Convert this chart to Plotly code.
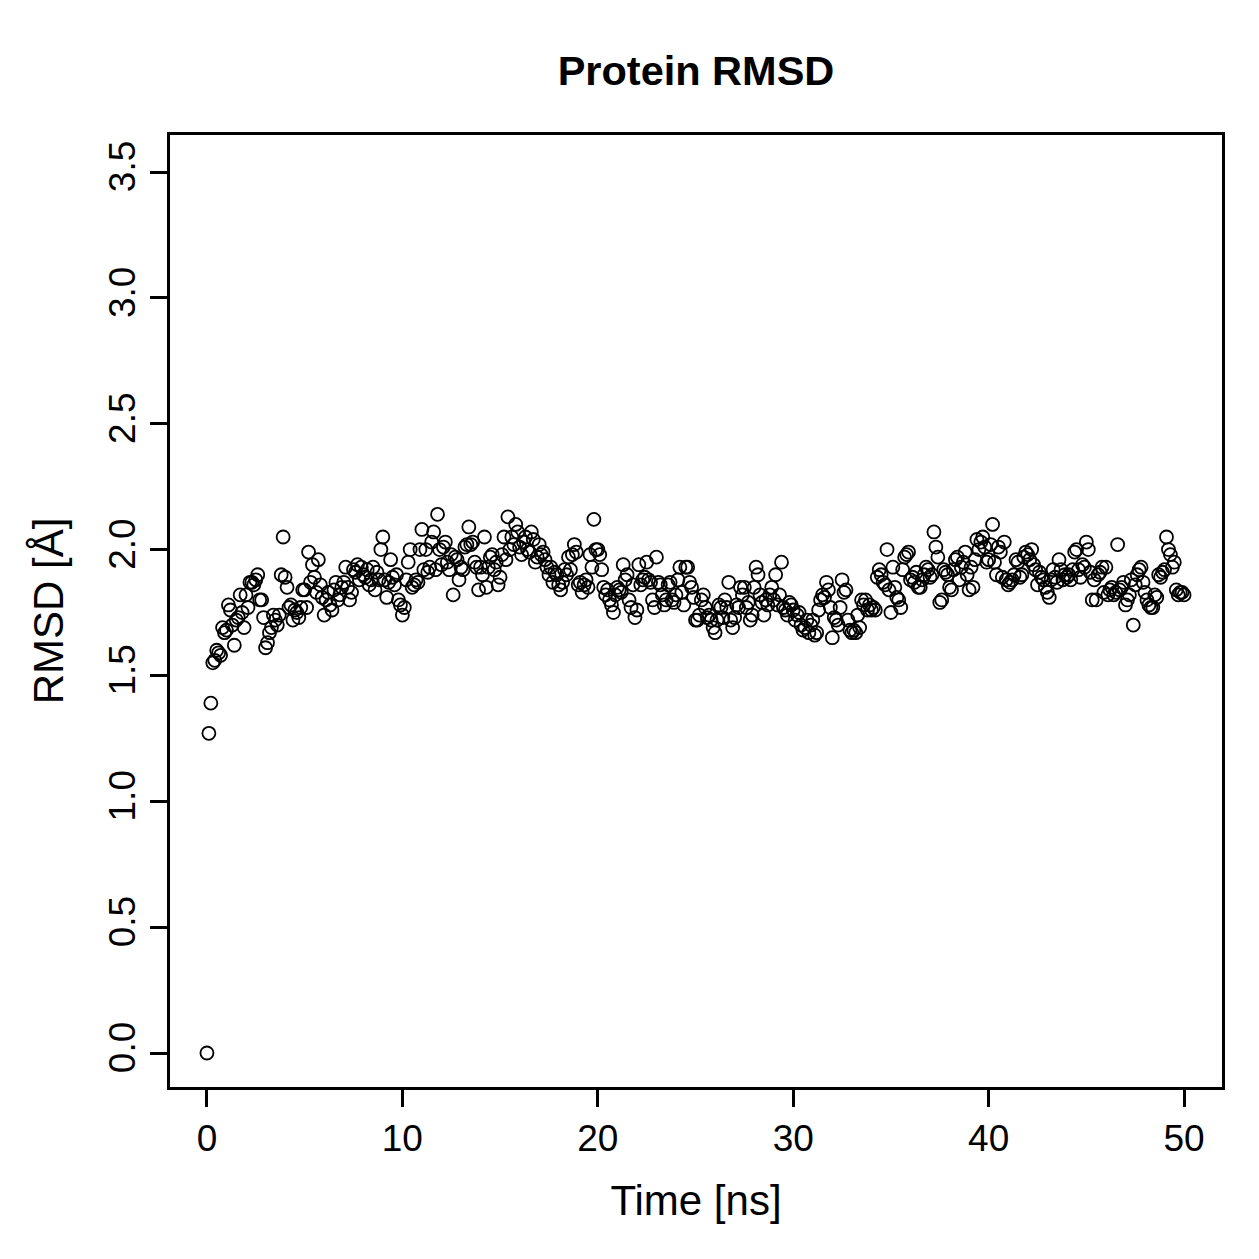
import plotly.graph_objects as go

time_ns = [round(i * 0.1, 1) for i in range(501)]

rmsd_rows = [
    [0.00, 1.27, 1.39, 1.55, 1.56, 1.60, 1.59, 1.58, 1.69, 1.67],
    [1.68, 1.78, 1.76, 1.70, 1.62, 1.72, 1.73, 1.82, 1.75, 1.69],
    [1.82, 1.77, 1.87, 1.87, 1.86, 1.88, 1.90, 1.80, 1.80, 1.73],
    [1.61, 1.63, 1.67, 1.69, 1.74, 1.72, 1.70, 1.74, 1.90, 2.05],
    [1.89, 1.85, 1.77, 1.78, 1.72, 1.76, 1.75, 1.73, 1.77, 1.84],
    [1.84, 1.77, 1.99, 1.87, 1.94, 1.89, 1.83, 1.96, 1.86, 1.81],
    [1.74, 1.80, 1.83, 1.78, 1.76, 1.84, 1.87, 1.80, 1.82, 1.85],
    [1.87, 1.93, 1.85, 1.80, 1.83, 1.92, 1.91, 1.94, 1.88, 1.93],
    [1.90, 1.89, 1.92, 1.86, 1.88, 1.93, 1.84, 1.91, 1.88, 2.00],
    [2.05, 1.88, 1.81, 1.87, 1.96, 1.89, 1.86, 1.90, 1.80, 1.78],
    [1.74, 1.77, 1.88, 1.95, 2.00, 1.85, 1.86, 1.88, 1.87, 2.00],
    [2.08, 1.92, 2.00, 1.91, 1.93, 2.03, 2.07, 1.92, 2.14, 2.00],
    [1.94, 2.01, 2.03, 1.95, 1.92, 1.98, 1.82, 1.97, 1.96, 1.88],
    [1.93, 1.92, 2.01, 2.02, 2.09, 2.02, 2.03, 1.95, 1.93, 1.84],
    [1.93, 1.90, 2.05, 1.85, 1.93, 1.97, 1.98, 1.92, 1.95, 1.86],
    [1.89, 1.98, 2.05, 1.96, 2.13, 2.00, 2.05, 2.02, 2.10, 2.07],
    [2.01, 1.98, 2.03, 2.05, 2.00, 1.99, 2.07, 2.04, 1.95, 1.97],
    [2.02, 1.98, 1.99, 1.96, 1.93, 1.90, 1.93, 1.87, 1.91, 1.90],
    [1.86, 1.84, 1.87, 1.92, 1.90, 1.97, 1.92, 1.98, 2.02, 1.99],
    [1.86, 1.87, 1.83, 1.86, 1.88, 1.85, 1.98, 1.93, 2.12, 2.00],
    [2.00, 1.98, 1.92, 1.85, 1.82, 1.84, 1.80, 1.78, 1.75, 1.82],
    [1.85, 1.84, 1.83, 1.94, 1.88, 1.90, 1.80, 1.77, 1.86, 1.73],
    [1.76, 1.94, 1.86, 1.88, 1.89, 1.95, 1.88, 1.87, 1.80, 1.77],
    [1.97, 1.87, 1.86, 1.82, 1.78, 1.80, 1.86, 1.87, 1.80, 1.79],
    [1.82, 1.88, 1.93, 1.83, 1.78, 1.93, 1.93, 1.87, 1.85, 1.81],
    [1.72, 1.72, 1.74, 1.80, 1.82, 1.77, 1.73, 1.74, 1.72, 1.69],
    [1.67, 1.72, 1.78, 1.77, 1.73, 1.80, 1.77, 1.87, 1.72, 1.69],
    [1.73, 1.78, 1.77, 1.85, 1.82, 1.85, 1.77, 1.79, 1.72, 1.74],
    [1.85, 1.93, 1.90, 1.82, 1.79, 1.74, 1.80, 1.78, 1.82, 1.85],
    [1.80, 1.90, 1.78, 1.82, 1.95, 1.77, 1.76, 1.74, 1.79, 1.78],
    [1.76, 1.72, 1.74, 1.75, 1.70, 1.68, 1.69, 1.72, 1.67, 1.70],
    [1.72, 1.66, 1.67, 1.76, 1.80, 1.82, 1.81, 1.87, 1.84, 1.77],
    [1.65, 1.73, 1.72, 1.70, 1.77, 1.88, 1.83, 1.84, 1.72, 1.68],
    [1.67, 1.68, 1.67, 1.74, 1.69, 1.80, 1.78, 1.80, 1.76, 1.78],
    [1.76, 1.77, 1.76, 1.89, 1.92, 1.90, 1.87, 1.86, 2.00, 1.84],
    [1.75, 1.93, 1.85, 1.81, 1.80, 1.77, 1.92, 1.97, 1.98, 1.99],
    [1.88, 1.89, 1.87, 1.91, 1.85, 1.85, 1.88, 1.90, 1.93, 1.92],
    [1.89, 1.90, 2.07, 2.01, 1.97, 1.79, 1.80, 1.92, 1.91, 1.90],
    [1.85, 1.84, 1.92, 1.96, 1.97, 1.88, 1.93, 1.95, 1.99, 1.90],
    [1.84, 1.93, 1.85, 1.96, 2.04, 2.00, 2.03, 2.05, 2.01, 1.95],
    [1.96, 2.02, 2.10, 1.95, 1.90, 2.01, 1.99, 1.89, 2.03, 1.88],
    [1.86, 1.87, 1.88, 1.90, 1.96, 1.95, 1.89, 1.90, 1.97, 1.99],
    [1.98, 1.96, 2.00, 1.94, 1.92, 1.86, 1.91, 1.89, 1.88, 1.85],
    [1.83, 1.81, 1.88, 1.92, 1.89, 1.87, 1.96, 1.92, 1.88, 1.90],
    [1.89, 1.90, 1.88, 1.92, 1.99, 2.00, 1.92, 1.89, 1.94, 1.93],
    [2.03, 2.00, 1.91, 1.80, 1.88, 1.80, 1.90, 1.91, 1.93, 1.83],
    [1.93, 1.82, 1.84, 1.85, 1.82, 1.83, 2.02, 1.84, 1.85, 1.87],
    [1.78, 1.80, 1.82, 1.88, 1.70, 1.86, 1.90, 1.92, 1.93, 1.87],
    [1.83, 1.80, 1.78, 1.77, 1.77, 1.82, 1.81, 1.90, 1.89, 1.91],
    [1.92, 2.05, 2.00, 1.98, 1.93, 1.95, 1.84, 1.82, 1.83, 1.83],
    [1.82],
]
rmsd = [v for row in rmsd_rows for v in row]

x_ticks = [0, 10, 20, 30, 40, 50]
y_ticks = [0.0, 0.5, 1.0, 1.5, 2.0, 2.5, 3.0, 3.5]

FONT = "Liberation Sans, Arial, Helvetica, sans-serif"

fig = go.Figure()
fig.add_trace(go.Scatter(
    x=time_ns, y=rmsd, mode="markers",
    marker=dict(symbol="circle-open", size=13, color="black",
                line=dict(width=1.8, color="black")),
    showlegend=False,
))

axis_common = dict(
    showline=True, linecolor="black", linewidth=2.5, mirror=True,
    ticks="outside", ticklen=17, tickwidth=2.5, tickcolor="black",
    showgrid=False, zeroline=False,
    tickfont=dict(family=FONT, size=37, color="black"),
)

fig.update_layout(
    width=1259, height=1259,
    margin=dict(l=170, r=37, t=135, b=172),
    paper_bgcolor="white", plot_bgcolor="white",
    title=dict(text="<b>Protein RMSD</b>", x=0.5528, xref="container",
               xanchor="center", y=1 - 70 / 1259, yanchor="middle",
               font=dict(family=FONT, size=41.5, color="black")),
    xaxis=dict(**axis_common, range=[-1.89, 51.94], tickvals=x_ticks,
               ticktext=[str(t) for t in x_ticks],
               title=dict(text="Time [ns]", standoff=28,
                          font=dict(family=FONT, size=42, color="black"))),
    yaxis=dict(**axis_common, range=[-0.135, 3.647], tickvals=y_ticks,
               ticktext=[f"{t:.1f}" for t in y_ticks], tickangle=-90,
               title=dict(text="RMSD [Å]", standoff=26,
                          font=dict(family=FONT, size=42, color="black"))),
)

fig.write_html("out.html")
